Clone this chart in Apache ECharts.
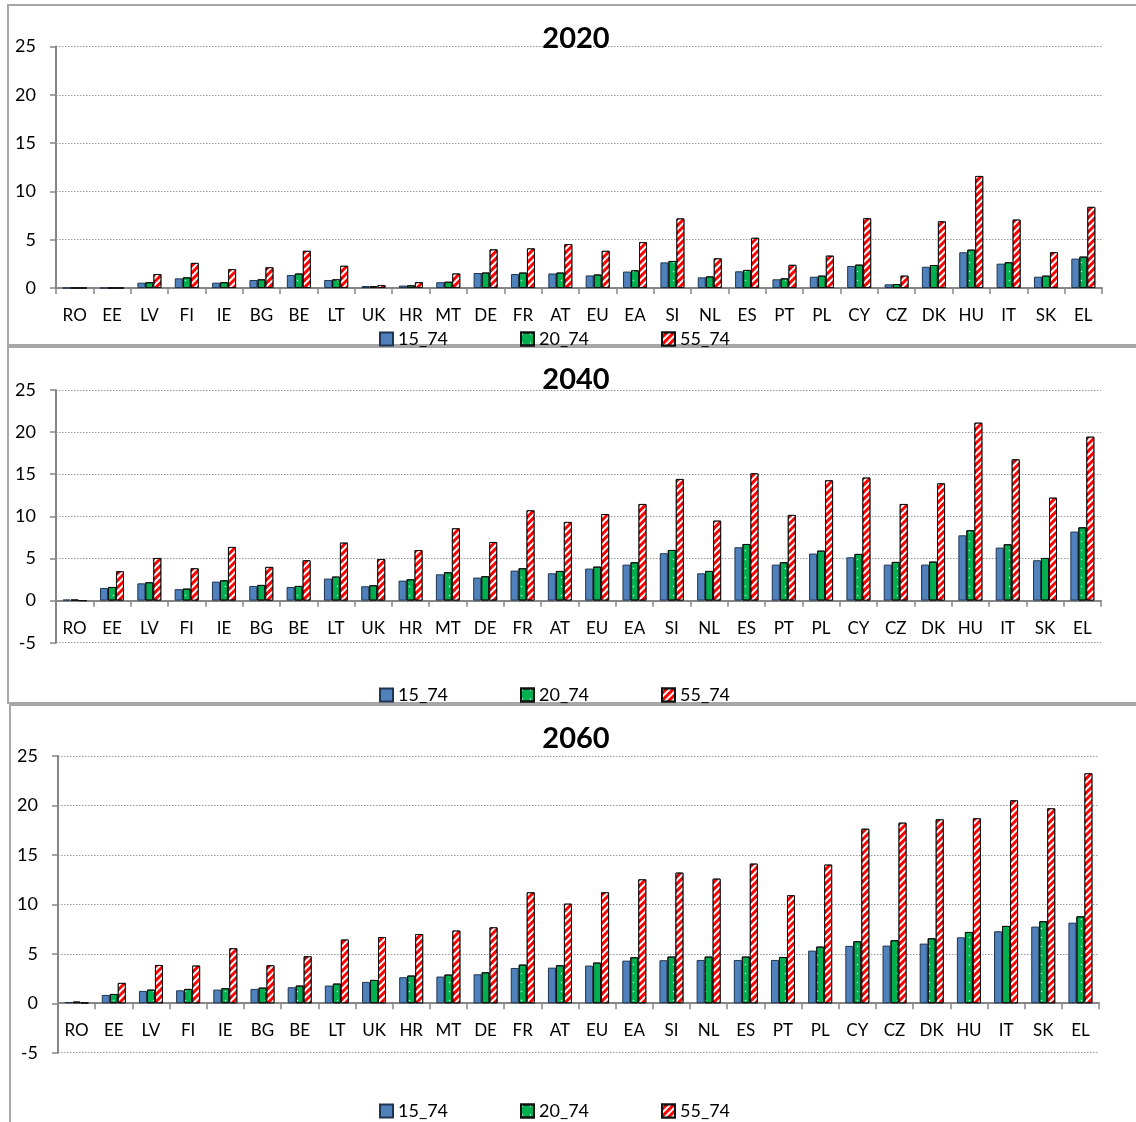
<!DOCTYPE html>
<html><head><meta charset="utf-8">
<script src="https://cdn.jsdelivr.net/npm/echarts@6/dist/echarts.min.js"></script>
<style>html,body{margin:0;padding:0;background:#fff}#c{width:1136px;height:1122px}</style>
</head><body><div id="c"></div>
<script>
var categories = ['RO','EE','LV','FI','IE','BG','BE','LT','UK','HR','MT','DE','FR','AT','EU','EA','SI','NL','ES','PT','PL','CY','CZ','DK','HU','IT','SK','EL'];
var seriesNames = ['15_74','20_74','55_74'];
var years = ['2020','2040','2060'];

var y2020_15_74 = [0,0,0.55,1.0,0.55,0.83,1.35,0.83,0.2,0.25,0.6,1.55,1.45,1.5,1.3,1.7,2.65,1.1,1.73,0.9,1.17,2.28,0.38,2.2,3.7,2.52,1.17,3.04];
var y2020_20_74 = [0,0,0.6,1.1,0.6,0.9,1.5,0.9,0.2,0.28,0.65,1.6,1.6,1.6,1.4,1.83,2.8,1.2,1.87,1.0,1.28,2.42,0.41,2.38,3.97,2.66,1.28,3.25];
var y2020_55_74 = [0,0,1.45,2.6,1.95,2.15,3.85,2.3,0.3,0.6,1.5,4.0,4.1,4.55,3.85,4.75,7.2,3.07,5.2,2.4,3.35,7.22,1.28,6.9,11.6,7.08,3.7,8.4];

var y2040_15_74 = [0.12,1.5,2.05,1.35,2.25,1.74,1.62,2.61,1.7,2.37,3.12,2.73,3.56,3.24,3.8,4.27,5.62,3.24,6.33,4.27,5.58,5.14,4.27,4.27,7.75,6.29,4.79,8.19];
var y2040_20_74 = [0.1,1.62,2.18,1.42,2.41,1.86,1.74,2.85,1.82,2.53,3.36,2.89,3.84,3.52,4.03,4.55,6.01,3.52,6.72,4.55,5.93,5.54,4.59,4.63,8.35,6.69,5.06,8.7];
var y2040_55_74 = [0,3.48,5.06,3.84,6.37,4.0,4.79,6.88,4.94,6.0,8.58,6.96,10.72,9.34,10.28,11.47,14.44,9.49,15.11,10.17,14.28,14.6,11.47,13.92,21.12,16.77,12.22,19.46];

var y2060_15_74 = [0.13,0.84,1.25,1.31,1.38,1.45,1.62,1.79,2.16,2.63,2.7,2.93,3.57,3.6,3.81,4.31,4.35,4.38,4.38,4.38,5.32,5.8,5.83,6.03,6.67,7.28,7.75,8.15];
var y2060_20_74 = [0.17,0.94,1.38,1.45,1.52,1.58,1.79,1.99,2.36,2.8,2.9,3.13,3.91,3.84,4.11,4.65,4.72,4.72,4.72,4.68,5.73,6.27,6.37,6.57,7.21,7.82,8.29,8.79];
var y2060_55_74 = [0.07,2.06,3.87,3.81,5.56,3.84,4.75,6.44,6.7,7.0,7.35,7.68,11.22,10.07,11.22,12.53,13.21,12.6,14.12,10.92,14.02,17.65,18.26,18.6,18.7,20.52,19.71,23.25];

var dataByYear = [
  [y2020_15_74, y2020_20_74, y2020_55_74],
  [y2040_15_74, y2040_20_74, y2040_55_74],
  [y2060_15_74, y2060_20_74, y2060_55_74]
];

var FONT = 'Lato';
var styles = [
  {color:'#4F81BD', borderColor:'#1F3550', borderWidth:1},
  {color:'#00B050', borderColor:'#111', borderWidth:1,
   decal:{symbol:'circle', symbolSize:0.5, color:'rgba(255,255,255,0.9)', dashArrayX:[3,5], dashArrayY:[3,6], rotation:0}},
  {color:'#FF0000', borderColor:'#111', borderWidth:1,
   decal:{symbol:'rect', symbolSize:1, color:'#ffffff', dashArrayX:[1,0], dashArrayY:[2,2.2], rotation:-Math.PI/4}}
];

var panels = [
  {top:46.5, height:241.5, left:56, right:34, min:0, title:24, legendY:330, xOffset:0},
  {top:390, height:252.7, left:56, right:35, min:-5, title:365.5, legendY:686, xOffset:-42},
  {top:756, height:296.7, left:58, right:37, min:-5, title:724.5, legendY:1102, xOffset:-49.5}
];
var legendX = [379, 520, 661];

var grid=[], xAxis=[], yAxis=[], series=[], title=[], legend=[];
panels.forEach(function(p, i){
  grid.push({left:p.left, right:p.right, top:p.top, height:p.height, containLabel:false});
  xAxis.push({type:'category', gridIndex:i, data:categories, position:'bottom', offset:p.xOffset,
    axisLine:{onZero:false, lineStyle:{color:'#868686', width:2}},
    axisTick:{show:true, length:6, lineStyle:{color:'#868686', width:1.5}},
    axisLabel:{color:'#000', fontSize:17, fontFamily:FONT, margin:19, interval:0},
    splitLine:{show:false}});
  yAxis.push({type:'value', gridIndex:i, min:p.min, max:25, interval:5,
    axisLine:{show:true, lineStyle:{color:'#868686', width:2}},
    axisTick:{show:true, length:6, lineStyle:{color:'#868686', width:1.5}},
    axisLabel:{color:'#000', fontSize:18, fontFamily:FONT, margin:20},
    splitLine:{show:true, lineStyle:{color:'#9a9a9a', type:[1.5,1.5], width:1}}});
  seriesNames.forEach(function(n, k){
    series.push({type:'bar', name:n, xAxisIndex:i, yAxisIndex:i, data:dataByYear[i][k],
      barWidth:8, barGap:'0%', itemStyle:styles[k], animation:false});
  });
  title.push({text:years[i], left:576, top:p.title, textAlign:'center', padding:0,
    textStyle:{fontSize:29, fontWeight:'bold', fontFamily:FONT, color:'#000'}});
  seriesNames.forEach(function(n, k){
    legend.push({data:[n], left:legendX[k], top:p.legendY, padding:0, itemWidth:13, itemHeight:13,
      icon:'rect', itemGap:0, textStyle:{fontSize:18, fontFamily:FONT, color:'#000', padding:[0,0,0,0]}});
  });
});

var chart = echarts.init(document.getElementById('c'), null, {renderer:'canvas'});
chart.setOption({
  animation:false,
  backgroundColor:'#fff',
  title:title, legend:legend, grid:grid, xAxis:xAxis, yAxis:yAxis, series:series,
  graphic:[
    {type:'rect', shape:{x:8, y:5, width:1140, height:340}, style:{fill:'none', stroke:'#A6A6A6', lineWidth:2}, silent:true, z:-1},
    {type:'rect', shape:{x:8, y:347, width:1140, height:356}, style:{fill:'none', stroke:'#A6A6A6', lineWidth:2}, silent:true, z:-1},
    {type:'rect', shape:{x:10, y:705, width:1140, height:430}, style:{fill:'none', stroke:'#A6A6A6', lineWidth:2}, silent:true, z:-1}
  ]
});
</script></body></html>
